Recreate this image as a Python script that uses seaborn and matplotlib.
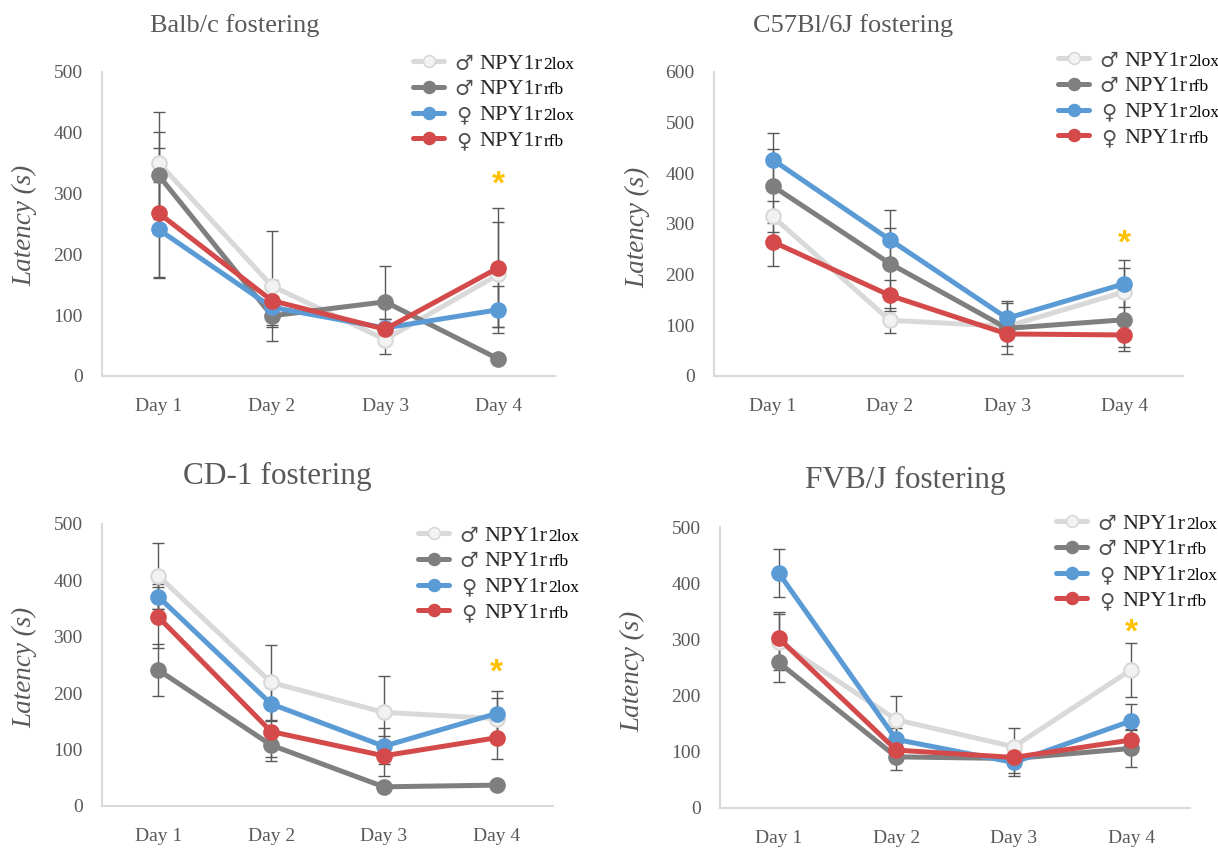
import matplotlib
matplotlib.use("Agg")
import matplotlib.pyplot as plt
import numpy as np
import pandas as pd
import seaborn as sns
from matplotlib.lines import Line2D

sns.set_style("white")
plt.rcParams["font.family"] = ["Liberation Serif", "DejaVu Sans"]

# ---- data -------------------------------------------------------------
DAYS = ["Day 1", "Day 2", "Day 3", "Day 4"]
GROUPS = ["m2lox", "mrfb", "f2lox", "frfb"]
LABEL_SEX = ["\u2642", "\u2642", "\u2640", "\u2640"]
LABEL_MAIN = ["NPY1r", "NPY1r", "NPY1r", "NPY1r"]
LABEL_SUFFIX = ["2lox", "rfb", "2lox", "rfb"]

balb_mean = {"m2lox": [351, 148, 60, 167], "mrfb": [330, 99, 122, 28],
             "f2lox": [241, 113, 79, 109], "frfb": [268, 124, 77, 178]}
balb_err = {"m2lox": [84, 90, 24, 86], "mrfb": [71, 15, 59, 5],
            "f2lox": [78, 32, 15, 39], "frfb": [107, 34, 17, 98]}

c57_mean = {"m2lox": [315, 110, 98, 166], "mrfb": [375, 222, 94, 111],
            "f2lox": [427, 269, 114, 182], "frfb": [265, 159, 83, 81]}
c57_err = {"m2lox": [30, 25, 20, 47], "mrfb": [74, 70, 50, 53],
           "f2lox": [53, 58, 34, 46], "frfb": [47, 30, 24, 31]}

cd1_mean = {"m2lox": [408, 219, 166, 155], "mrfb": [241, 108, 34, 37],
            "f2lox": [371, 181, 106, 164], "frfb": [335, 132, 89, 121]}
cd1_err = {"m2lox": [58, 67, 64, 37], "mrfb": [46, 28, 5, 5],
           "f2lox": [22, 30, 32, 40], "frfb": [54, 45, 35, 38]}

fvb_mean = {"m2lox": [296, 157, 109, 246], "mrfb": [259, 91, 88, 106],
            "f2lox": [418, 122, 81, 155], "frfb": [302, 103, 90, 121]}
fvb_err = {"m2lox": [50, 43, 33, 48], "mrfb": [35, 23, 25, 33],
           "f2lox": [42, 20, 24, 30], "frfb": [46, 15, 15, 20]}

TITLES = ["Balb/c fostering", "C57Bl/6J fostering", "CD-1 fostering", "FVB/J fostering"]
Y_MAX = [500, 600, 500, 500]
STAR_Y = [314, 260, 236, 312]   # height of the significance mark at Day 4

# ---- styling ----------------------------------------------------------
LINE_COLORS = {"m2lox": "#D9D9D9", "mrfb": "#7F7F7F", "f2lox": "#5B9BD5", "frfb": "#D44A4A"}
FACE_COLORS = {"m2lox": "#F2F2F2", "mrfb": "#7F7F7F", "f2lox": "#5B9BD5", "frfb": "#D44A4A"}
TEXT_GRAY = "#595959"
AXIS_GRAY = "#D9D9D9"

W, H = 1218, 850
fig = plt.figure(figsize=(W / 100, H / 100), dpi=100)

# pixel boxes: left, top, right, bottom
BOXES = [(102, 72, 555, 376), (714, 72, 1183, 376),
         (102, 524, 553, 806), (720, 527, 1190, 808)]
TITLE_POS = [(235, 26), (853, 26), (277, 476), (905, 480)]
TITLE_SIZE = [19, 19, 22.5, 22.5]
YLABEL_POS = [(25, 225), (638, 227), (25, 667), (633, 671)]
LEGEND_POS = [(413, 53), (1058, 50), (418, 525), (1056, 513)]

panels = [(balb_mean, balb_err), (c57_mean, c57_err),
          (cd1_mean, cd1_err), (fvb_mean, fvb_err)]

legends = []
for i, (means, errs) in enumerate(panels):
    l, t, r, b = BOXES[i]
    ax = fig.add_axes([l / W, 1 - b / H, (r - l) / W, (b - t) / H])
    x = np.arange(len(DAYS))
    for g in GROUPS:
        df = pd.DataFrame({"day": x, "latency": means[g]})
        ax.errorbar(x, means[g], yerr=errs[g], fmt="none", ecolor=TEXT_GRAY,
                    elinewidth=1.0, capsize=4.5, capthick=1.0, zorder=1.5)
        sns.lineplot(data=df, x="day", y="latency", ax=ax, color=LINE_COLORS[g],
                     linewidth=3.6, marker="o", markersize=10.5,
                     markerfacecolor=FACE_COLORS[g], markeredgecolor=LINE_COLORS[g],
                     markeredgewidth=1.5, zorder=2.5, errorbar=None)
    ax.text(3, STAR_Y[i], "*", color="#FFC000", fontsize=24, ha="center",
            va="center", family="Liberation Sans", fontweight="bold")

    ax.set_xlim(-0.5, 3.5)
    ax.set_ylim(0, Y_MAX[i])
    ax.set_yticks(np.arange(0, Y_MAX[i] + 1, 100))
    ax.set_xticks(x)
    ax.set_xticklabels(DAYS)
    ax.set_xlabel("")
    ax.set_ylabel("")
    ax.tick_params(axis="both", length=0, labelsize=14, labelcolor=TEXT_GRAY)
    ax.tick_params(axis="y", pad=14)
    ax.tick_params(axis="x", pad=16)
    sns.despine(ax=ax)
    for s in ("left", "bottom"):
        ax.spines[s].set_color(AXIS_GRAY)
        ax.spines[s].set_linewidth(1.5)

    fig.text(TITLE_POS[i][0] / W, 1 - TITLE_POS[i][1] / H, TITLES[i],
             fontsize=TITLE_SIZE[i], color=TEXT_GRAY, ha="center", va="center")
    fig.text(YLABEL_POS[i][0] / W, 1 - YLABEL_POS[i][1] / H, "Latency (s)",
             fontsize=19.5, style="italic", color=TEXT_GRAY, rotation=90,
             ha="center", va="center")

    handles = [Line2D([0], [0], color=LINE_COLORS[g], lw=3.6, marker="o",
                      markersize=8.5, markerfacecolor=FACE_COLORS[g],
                      markeredgecolor=LINE_COLORS[g], markeredgewidth=1.2)
               for g in GROUPS]
    lx, ly = LEGEND_POS[i]
    leg = ax.legend(handles, LABEL_MAIN, loc="upper left",
                    bbox_to_anchor=(lx / W, 1 - ly / H), bbox_transform=fig.transFigure,
                    frameon=False, borderpad=0, borderaxespad=0, fontsize=16,
                    handlelength=1.4, handletextpad=1.58, labelspacing=0.24)
    legends.append(leg)

# sex symbol before, and smaller allele suffix after, each legend label
fig.canvas.draw()
renderer = fig.canvas.get_renderer()
inv = fig.transFigure.inverted()
for leg in legends:
    for txt, sex, suffix in zip(leg.get_texts(), LABEL_SEX, LABEL_SUFFIX):
        bb = txt.get_window_extent(renderer)
        base = txt.get_transform().transform(txt.get_position())
        sx, sy = inv.transform((bb.x0 - 15.5, base[1] - 1))
        fig.text(sx, sy, sex, fontsize=15, color="#505050", ha="center",
                 va="baseline", family="DejaVu Sans")
        fx, fy = inv.transform((bb.x1 + 1, base[1]))
        fig.text(fx, fy, suffix, fontsize=12.5, color="black", ha="left", va="baseline")

fig.savefig("out.png", dpi=100)
